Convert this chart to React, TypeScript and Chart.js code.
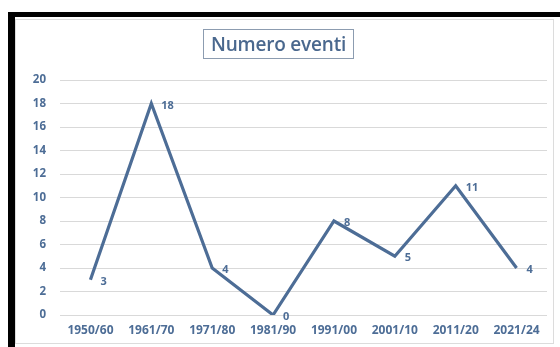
import React, { useEffect, useRef } from "react";
import { Chart, registerables } from "chart.js";

Chart.register(...registerables);

const categories = ["1950/60", "1961/70", "1971/80", "1981/90", "1991/00", "2001/10", "2011/20", "2021/24"];
const eventCounts = [3, 18, 4, 0, 8, 5, 11, 4];
const yTicks = [0, 2, 4, 6, 8, 10, 12, 14, 16, 18, 20];
const chartTitle = "Numero eventi";

const BLUE = "#4d6d96";
const FONT = "'Open Sans', 'Liberation Sans', sans-serif";

const valueLabels = {
  id: "valueLabels",
  afterDatasetsDraw(chart: any) {
    const ctx = chart.ctx;
    const meta = chart.getDatasetMeta(0);
    ctx.save();
    ctx.font = `bold 11px ${FONT}`;
    ctx.fillStyle = BLUE;
    ctx.textAlign = "left";
    ctx.textBaseline = "middle";
    meta.data.forEach((pt: any, i: number) => {
      ctx.fillText(String(eventCounts[i]), pt.x + 10, pt.y + 2);
    });
    ctx.restore();
  },
};

export default function App() {
  const ref = useRef<HTMLCanvasElement>(null);
  useEffect(() => {
    if (!ref.current) return;
    const chart = new Chart(ref.current, {
      type: "line",
      data: {
        labels: categories,
        datasets: [
          {
            data: eventCounts,
            borderColor: BLUE,
            borderWidth: 3.2,
            pointRadius: 0,
            tension: 0,
            fill: false,
            borderJoinStyle: "miter",
          },
        ],
      },
      options: {
        animation: false,
        responsive: false,
        layout: { padding: { top: 60, right: 6, bottom: 0, left: 0 } },
        plugins: { legend: { display: false }, tooltip: { enabled: false }, title: { display: false } },
        scales: {
          x: {
            offset: true,
            grid: { display: false, drawTicks: false },
            border: { display: false },
            ticks: { color: BLUE, font: { family: FONT, size: 12, weight: "bold" }, padding: 8, maxRotation: 0, autoSkip: false },
            afterFit: (s: any) => { s.height = 28; },
          },
          y: {
            min: 0,
            max: 20,
            afterBuildTicks: (s: any) => { s.ticks = yTicks.map((v) => ({ value: v })); },
            grid: { color: "#d9d9d9", lineWidth: 1, drawTicks: false },
            border: { display: false },
            ticks: { color: BLUE, font: { family: FONT, size: 11.5, weight: "bold" }, padding: 14 },
            afterFit: (s: any) => { s.width = 44; },
          },
        },
      },
      plugins: [valueLabels],
    } as any);
    return () => chart.destroy();
  }, []);

  return (
    <div style={{ position: "fixed", left: 0, top: 0, width: 560, height: 347, background: "#fff", overflow: "hidden" }}>
      <div style={{ position: "absolute", left: 8, top: 12, width: 552, height: 5, background: "#000" }} />
      <div style={{ position: "absolute", left: 8, top: 12, width: 7, height: 335, background: "#000" }} />
      <div style={{ position: "absolute", left: 15, top: 19, width: 537, height: 323, border: "1px solid #dcdcdc", background: "#fff" }} />
      <canvas ref={ref} width={537} height={323} style={{ position: "absolute", left: 16, top: 20, width: 537, height: 323 }} />
      <div
        style={{
          position: "absolute",
          left: 203,
          top: 29,
          width: 149,
          height: 28,
          border: "1px solid #8c9cb0",
          color: "#4a688e",
          font: `600 19px ${FONT}`,
          lineHeight: "28px",
          textAlign: "center",
          whiteSpace: "nowrap",
          letterSpacing: "-0.2px",
        }}
      >
        {chartTitle}
      </div>
    </div>
  );
}
